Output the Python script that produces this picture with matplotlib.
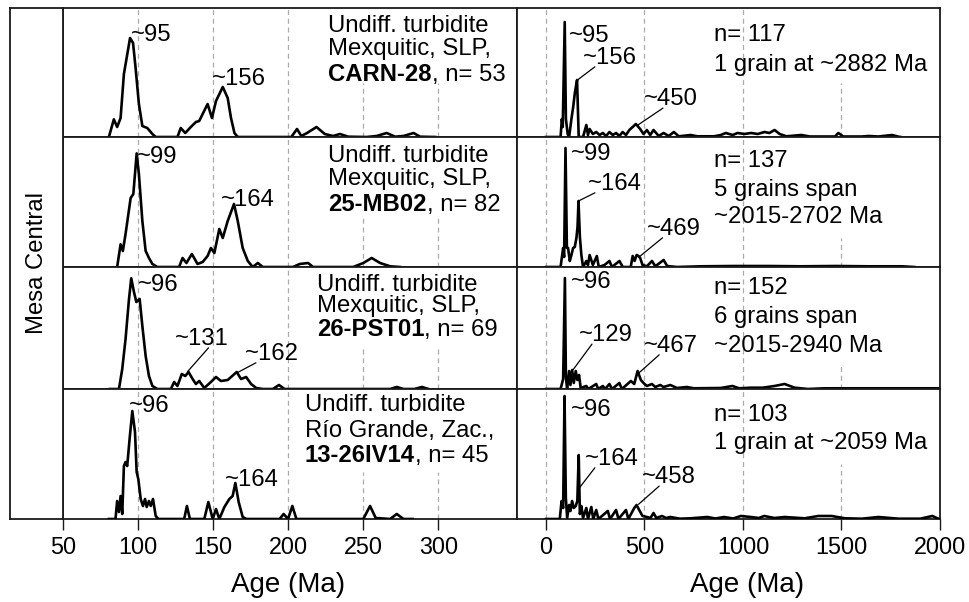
import matplotlib
matplotlib.use("Agg")
import matplotlib.pyplot as plt

plt.rcParams['font.family'] = ['Liberation Sans', 'DejaVu Sans']

# ---------------- data (ages in Ma, relative probability in arbitrary units) -------------
samples = ["CARN-28", "25-MB02", "26-PST01", "13-26IV14"]
n_left = [53, 82, 69, 45]
n_right = [117, 137, 152, 103]
left_line1 = ["Undiff. turbidite"] * 4
left_line2 = ["Mexquitic, SLP,", "Mexquitic, SLP,", "Mexquitic, SLP,", "Río Grande, Zac.,"]
right_notes = [["1 grain at ~2882 Ma"],
               ["5 grains span", "~2015-2702 Ma"],
               ["6 grains span", "~2015-2940 Ma"],
               ["1 grain at ~2059 Ma"]]
region_label = "Mesa Central"
left_ticks = [50, 100, 150, 200, 250, 300]
right_ticks = [0, 500, 1000, 1500, 2000]

L1_age = [80.4, 83.7, 85.9, 88.2, 90.4, 94.5, 96.5, 98.2, 100.4, 102.7, 106.0, 109.4, 111.6,
          126.1, 128.3, 131.3, 135.0, 138.4, 140.6, 142.9, 146.2, 149.1, 151.8, 156.3, 159.6,
          161.8, 164.1, 166.3, 202.0, 205.8, 208.7, 212.5, 218.8, 224.3, 229.9, 234.4, 240.0,
          252.2, 258.9, 265.6, 271.2, 276.8, 283.5, 287.9, 298.0]
L1_prob = [0, 17.7, 10, 19, 63, 99, 94, 69, 33, 11, 9, 3, 0,
           0, 9, 4, 10, 15, 16, 23, 33, 19, 36, 50, 39,
           19, 4, 0, 0, 8, 1, 4, 10, 3, 1, 3, 0.3,
           0, 1, 4, 0.3, 1, 4, 0.3, 0]

L2_age = [85.9, 88.2, 89.7, 91.5, 94.9, 96.7, 98.9, 100.4, 102.7, 104.9, 107.1, 109.4, 112.7,
          127.2, 129.5, 132.1, 135.7, 139.5, 142.9, 146.2, 148.4, 150.7, 154.0, 156.3, 159.6,
          163.8, 166.3, 169.6, 173.0, 176.3, 179.7, 183.0, 203.1, 207.6, 213.2, 216.5, 243.3,
          250.0, 255.6, 261.2, 267.9, 274.6]
L2_prob = [0, 22.7, 16, 33, 69, 73, 113.6, 93, 46, 16, 9, 3, 0,
           0, 9, 4, 13, 3, 5, 11, 19, 14, 38, 29, 46,
           63, 46, 19, 6, 0, 4, 0, 0, 3, 4, 0, 0,
           4, 9, 4, 0.7, 0]

L3_age = [81.0, 87.1, 89.3, 91.5, 93.8, 95.3, 97.1, 98.7, 100.9, 102.7, 104.9, 107.1, 109.4,
          112.7, 121.7, 123.9, 126.1, 129.0, 131.3, 133.5, 136.2, 138.4, 140.6, 144.0, 148.4,
          151.8, 155.1, 159.6, 165.6, 168.5, 171.9, 175.2, 178.6, 183.0, 189.7, 193.8, 197.5,
          267.9, 272.3, 276.8, 284.0, 289.1, 293.5]
L3_prob = [0, 0, 20, 50, 90, 110.7, 97, 87, 90, 63, 33, 13, 3,
           0, 0, 7, 3, 15, 13, 17, 10, 5, 8, 1, 7,
           12, 8, 9, 17, 10, 12, 5, 1, 0, 0, 4, 0,
           0, 2, 0, 0, 2, 0]

L4_age = [80.4, 84.8, 85.9, 87.1, 88.2, 89.3, 90.4, 91.5, 92.6, 94.2, 96.0, 97.8, 98.9, 100.0,
          101.6, 103.1, 104.5, 105.6, 107.1, 108.3, 109.8, 111.6, 113.4, 130.6, 132.4, 134.4,
          144.0, 146.7, 149.6, 151.8, 154.0, 157.4, 160.7, 162.9, 164.7, 166.9, 169.6, 172.0,
          194.2, 196.9, 199.8, 202.7, 205.4, 250.0, 254.5, 258.3, 267.9, 272.3, 276.8, 283.0]
L4_prob = [0, 0, 18, 7, 23, 5, 53, 57, 53, 80, 108, 87, 47, 40,
           20, 13, 20, 12, 18, 13, 20, 3, 0, 0, 13, 0,
           0, 17, 0, 10, 0, 12, 20, 23, 36, 17, 2, 0,
           0, 5, 0, 13, 0, 0, 13, 1, 0, 5, 0, 0]

R1_age = [0, 74, 80.5, 85, 95, 101, 110, 117.5, 129, 138, 147, 157.7, 166, 188, 204.7, 213,
          221.5, 238, 255, 272, 288.6, 305, 322, 339, 355.7, 372.5, 389, 406, 423, 440, 456,
          465, 478, 495, 512, 529, 546, 572, 597, 623, 649, 674, 734, 768, 853, 887, 913, 947,
          973, 1007, 1041, 1075, 1109, 1134, 1160, 1186, 1220, 1296, 1339, 1467, 1484, 1509,
          1603, 1637, 1688, 1756, 1790, 1800]
R1_prob = [0, 0, 18, 10, 115, 18, 3, 0, 18, 30, 45, 57, 0, 0, 12, 2,
           8, 3, 5, 2, 4, 1, 5, 2, 4, 1, 5, 2, 7, 10, 13,
           11, 8, 3, 7, 2, 7, 1, 4, 1, 5, 0.7, 2, 0.7, 0.7, 2, 4, 2,
           4, 3, 4, 3, 5, 4, 7, 3, 0.7, 2, 0.5, 0.5, 4, 0.5,
           0.5, 1, 0.5, 2, 0.3, 0]

R2_age = [0, 74, 87, 92, 99, 106, 112, 120.8, 129, 137.6, 146, 154.4, 160, 165, 172, 179.5,
          188, 204.7, 213, 221.5, 238, 258, 268, 297, 322, 335, 372.5, 390, 430, 440, 449.7,
          460, 469.6, 478, 490, 512, 538, 555, 597, 615, 665, 785, 955, 1126, 1296, 1467,
          1637, 1807, 1870]
R2_prob = [0, 0, 19, 10, 119, 19, 19, 6, 12, 19, 20, 29, 40, 66, 30, 12,
           0, 6, 2, 12, 2, 11, 0, 2, 6, 0, 6, 0, 0, 11, 6,
           12, 11, 9, 2, 0.7, 6, 0.7, 7, 1, 0, 0.7, 1, 1, 0.7, 1,
           0.7, 0.7, 0]

R3_age = [0, 74, 87, 96, 101, 107, 117.5, 124, 132.6, 141, 151, 159, 167.8, 176, 204.7, 215,
          255, 265, 288.6, 300, 322, 335, 372.5, 385, 431, 448, 465, 481.6, 495, 512, 538,
          555, 580, 597, 631, 665, 716, 750, 887, 946, 981, 1040, 1100, 1160, 1211, 1262,
          1330, 1415, 1500, 1700, 1990]
R3_prob = [0, 0, 10, 111, 12, 0, 18, 4, 19, 6, 18, 9, 14, 1, 3, 0,
           5, 0, 3, 0, 5, 0, 6, 0, 8, 5, 18, 9, 6, 3, 5,
           2, 4, 2, 4, 1, 2, 0.7, 1, 3, 0.7, 1.3, 1.3, 3, 5, 1.3,
           0, 0.7, 0.7, 0.7, 0.7]

R4_age = [0, 70, 79, 87, 94, 100.7, 107.4, 117.5, 124, 132.6, 141, 151, 159, 166, 172, 179.5,
          188, 204.7, 213, 230, 240, 255, 266, 313.8, 325, 355.7, 368, 406, 418, 448, 459.8,
          473, 490, 512, 530, 546, 560, 589, 610, 631, 680, 734, 819, 860, 904, 950, 989,
          1040, 1080, 1108, 1160, 1211, 1313, 1382, 1450, 1518, 1603, 1688, 1790, 1900, 1961,
          1995]
R4_prob = [0, 0, 18, 11, 123, 21, 1, 14, 8, 18, 11, 13, 18, 64, 5, 13,
           1, 11, 0, 12, 0, 9, 0, 8, 0, 9, 0, 9, 0, 11, 14,
           9, 3, 2, 1, 6, 1, 3, 1, 2, 0.3, 0.7, 2, 0.5, 2, 0.5, 3,
           2, 1, 3, 1, 2, 0.7, 3, 3, 0.7, 0.3, 2, 0.3, 0.3, 3,
           0]

left_curves = [(L1_age, L1_prob), (L2_age, L2_prob), (L3_age, L3_prob), (L4_age, L4_prob)]
right_curves = [(R1_age, R1_prob), (R2_age, R2_prob), (R3_age, R3_prob), (R4_age, R4_prob)]

# peak labels: (text, text x, text y, pointed age, pointed prob or None)
left_peaks = [
    [("~95", 95.3, 96, None, None), ("~156", 149.1, 52, None, None)],
    [("~99", 99.3, 104, None, None), ("~164", 155.1, 61, None, None)],
    [("~96", 100.0, 98, None, None), ("~131", 124.6, 44, 132.8, 17.3), ("~162", 171.2, 29, 165.6, 16)],
    [("~96", 93.75, 107, None, None), ("~164", 158.0, 33, None, None)],
]
right_peaks = [
    [("~95", 117.5, 95, None, None), ("~156", 188, 73, 157.7, 56.7), ("~450", 495.3, 31.7, 464.5, 11.7)],
    [("~99", 124, 107, None, None), ("~164", 213, 77, 167.8, 66.3), ("~469", 512.3, 32, 470.4, 9.7)],
    [("~96", 124, 101, None, None), ("~129", 167.8, 47.7, 137.6, 19.3), ("~467", 495.3, 37, 469.6, 15.7)],
    [("~96", 124, 103, None, None), ("~164", 196, 54, 169, 31), ("~458", 487, 35.7, 469.6, 14.7)],
]

# ---------------- layout / style -------------
W, H = 970, 602
fig = plt.figure(figsize=(W / 100, H / 100), dpi=100)

def fx(px):
    return px / W

row_edges = [8, 137, 267, 389, 519]
X_LEFT0, X_MID, X_RIGHT1 = 63.3, 517.3, 940.0
left_xlim = (50, 50 + (X_MID - X_LEFT0) / 1.5)
r_scale = (940.0 - 546.0) / 2000.0
right_xlim = (-(546.0 - X_MID) / r_scale, 2000)

FS = 17.2
SP_C = '#1a1a1a'
GRID_C = '#ababab'
left_grid_tops = [54, 52, 42, 47]
right_grid_tops = [54, 29, 26, 55]
left_text_x = [226.5, 226.5, 219.1, 211.1]
left_text_y = [[105.3, 82, 56], [104.7, 82, 56], [98.3, 76.7, 52.7], [108.3, 82.3, 57.3]]
right_text_x = 853
right_text_y = [[95.7, 66.3], [99.7, 70.7, 44], [94.7, 65.7, 36.7], [98, 69.7]]
relpos_x = {("L", 2, 1): 0.62, ("L", 2, 2): 0.2,
            ("R", 0, 1): 0.22, ("R", 0, 2): 0.36,
            ("R", 1, 1): 0.13, ("R", 1, 2): 0.29,
            ("R", 2, 1): 0.24, ("R", 2, 2): 0.29,
            ("R", 3, 1): 0.19, ("R", 3, 2): 0.32}

def style_axes(ax, bottom):
    for s in ax.spines.values():
        s.set_color(SP_C)
        s.set_linewidth(1.3)
    ax.set_yticks([])
    if bottom:
        ax.tick_params(axis='x', direction='out', length=8, width=1.0, pad=4,
                       labelsize=16.8, colors=SP_C, labelcolor='black')
    else:
        ax.tick_params(axis='x', length=0, labelbottom=False)

def add_peaks(ax, peaks, side, row):
    for j, (txt, tx, ty, px_, py_) in enumerate(peaks):
        if px_ is None:
            ax.text(tx, ty, txt, fontsize=FS, ha='left', va='baseline', zorder=5)
        else:
            rx = relpos_x.get((side, row, j), 0.2)
            ax.annotate(txt, xy=(px_, py_), xytext=(tx, ty), fontsize=FS,
                        ha='left', va='baseline', zorder=5,
                        arrowprops=dict(arrowstyle='-', color='black', lw=0.9,
                                        shrinkA=0, shrinkB=0, patchA=None,
                                        relpos=(rx, 0.1)))

for i in range(4):
    top, bot = row_edges[i], row_edges[i + 1]
    h = bot - top
    y0 = 1 - bot / H
    # left panel
    axl = fig.add_axes([fx(X_LEFT0), y0, fx(X_MID) - fx(X_LEFT0), h / H])
    axl.set_xlim(*left_xlim)
    axl.set_ylim(0, h)
    axl.set_xticks(left_ticks)
    style_axes(axl, i == 3)
    for g in [100, 150, 200]:
        axl.vlines(g, 0, h, colors=GRID_C, linestyles=(0, (4, 3)), lw=0.9, zorder=0)
    for g in [250, 300]:
        axl.vlines(g, 0, left_grid_tops[i], colors=GRID_C, linestyles=(0, (4, 3)), lw=0.9, zorder=0)
    a, p = left_curves[i]
    axl.plot(a, p, color='black', lw=1.9, solid_joinstyle='round', zorder=3)
    add_peaks(axl, left_peaks[i], "L", i)
    ty = left_text_y[i]
    axl.text(left_text_x[i], ty[0], left_line1[i], fontsize=FS, ha='left', va='baseline')
    axl.text(left_text_x[i], ty[1], left_line2[i], fontsize=FS, ha='left', va='baseline')
    tb = axl.text(left_text_x[i], ty[2], samples[i], fontsize=FS, fontweight='bold',
                  ha='left', va='baseline')
    axl.annotate(f", n= {n_left[i]}", xy=(1, 0), xycoords=tb, fontsize=FS,
                 ha='left', va='bottom')

    # right panel
    axr = fig.add_axes([fx(X_MID), y0, fx(X_RIGHT1) - fx(X_MID), h / H])
    axr.set_xlim(*right_xlim)
    axr.set_ylim(0, h)
    axr.set_xticks(right_ticks)
    style_axes(axr, i == 3)
    for g in [0, 500, 1000]:
        axr.vlines(g, 0, h, colors=GRID_C, linestyles=(0, (4, 3)), lw=0.9, zorder=0)
    axr.vlines(1500, 0, right_grid_tops[i], colors=GRID_C, linestyles=(0, (4, 3)), lw=0.9, zorder=0)
    a, p = right_curves[i]
    axr.plot(a, p, color='black', lw=1.9, solid_joinstyle='round', zorder=3)
    add_peaks(axr, right_peaks[i], "R", i)
    lines = [f"n= {n_right[i]}"] + right_notes[i]
    for ln, yy in zip(lines, right_text_y[i]):
        axr.text(right_text_x, yy, ln, fontsize=FS, ha='left', va='baseline')

# region label column
axc = fig.add_axes([fx(10), 1 - 519 / H, fx(X_LEFT0) - fx(10), (519 - 8) / H])
axc.set_xticks([])
axc.set_yticks([])
for s in axc.spines.values():
    s.set_color(SP_C)
    s.set_linewidth(1.3)
axc.text(0.5, 0.5, region_label, rotation=90, fontsize=FS, ha='center', va='center',
         transform=axc.transAxes)

fig.text(fx(288), 1 - 592 / H, "Age (Ma)", fontsize=20, ha='center', va='baseline')
fig.text(fx(747), 1 - 592 / H, "Age (Ma)", fontsize=20, ha='center', va='baseline')

fig.savefig("out.png", dpi=100)
